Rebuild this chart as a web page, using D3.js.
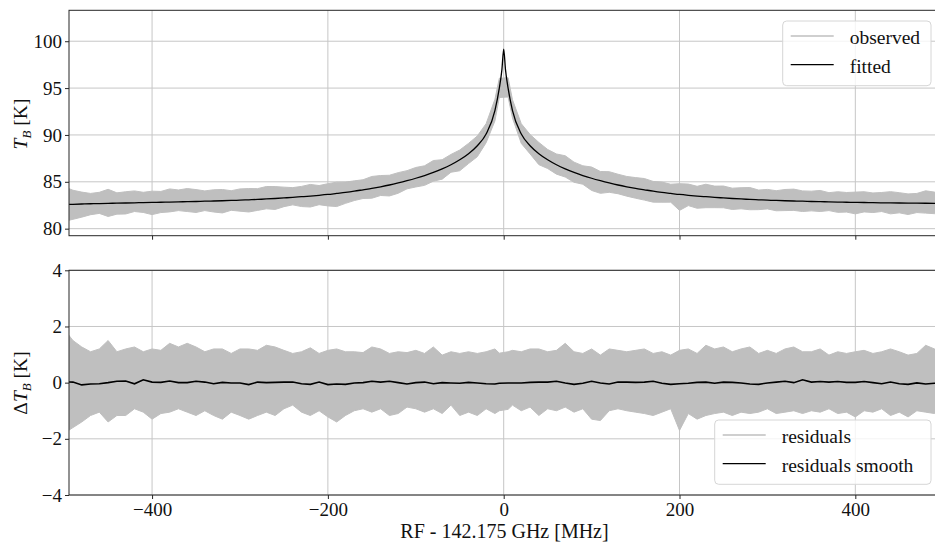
<!DOCTYPE html>
<html>
<head>
<meta charset="utf-8">
<script src="https://cdn.jsdelivr.net/npm/d3@7"></script>
<style>
  body { margin: 0; background: #fff; }
  text { font-family: 'Liberation Serif', 'DejaVu Serif', serif; fill: #111; }
</style>
</head>
<body>
<div id="chart"></div>
<script>
// fitted model, channel offsets from 142.175 GHz [MHz] and T_B [K]
const fitFreq = [
  -500,-490,-480,-470,-460,-450,-440,-430,-420,-410,
  -400,-390,-380,-370,-360,-350,-340,-330,-320,-310,
  -300,-290,-280,-270,-260,-250,-240,-230,-220,-210,
  -200,-190,-180,-170,-160,-150,-140,-130,-120,-110,
  -100,-90,-80,-70,-60,-50,-40,-30,-20,-10,
  -5,-2,0,2,5,
  10,20,30,40,50,60,70,80,90,100,
  110,120,130,140,150,160,170,180,190,200,
  210,220,230,240,250,260,270,280,290,300,
  310,320,330,340,350,360,370,380,390,400,
  410,420,430,440,450,460,470,480,490,500
];
const fitted = [
  82.58,82.60,82.63,82.66,82.68,82.70,82.72,82.74,82.76,82.78,
  82.80,82.82,82.84,82.86,82.88,82.90,82.93,82.95,82.98,83.01,
  83.04,83.08,83.12,83.17,83.22,83.28,83.34,83.41,83.48,83.56,
  83.65,83.76,83.87,84.00,84.15,84.30,84.47,84.66,84.88,85.12,
  85.38,85.67,86.00,86.38,86.82,87.35,88.00,88.85,90.10,92.60,
  95.00,97.00,99.15,97.00,95.00,
  92.60,90.10,88.85,88.00,87.35,86.82,86.38,86.00,85.67,85.38,
  85.12,84.88,84.66,84.47,84.30,84.15,84.00,83.87,83.76,83.65,
  83.56,83.48,83.41,83.34,83.28,83.22,83.17,83.12,83.08,83.04,
  83.01,82.98,82.95,82.93,82.90,82.88,82.86,82.84,82.82,82.80,
  82.79,82.77,82.76,82.75,82.74,82.73,82.72,82.71,82.70,82.69
];

// residual channel bins [MHz]
const freq = [
  -500,-490,-480,-470,-460,-450,-440,-430,-420,-410,
  -400,-390,-380,-370,-360,-350,-340,-330,-320,-310,
  -300,-290,-280,-270,-260,-250,-240,-230,-220,-210,
  -200,-190,-180,-170,-160,-150,-140,-130,-120,-110,
  -100,-90,-80,-70,-60,-50,-40,-30,-20,-10,
  -5,5,
  10,20,30,40,50,60,70,80,90,100,
  110,120,130,140,150,160,170,180,190,200,
  210,220,230,240,250,260,270,280,290,300,
  310,320,330,340,350,360,370,380,390,400,
  410,420,430,440,450,460,470,480,490,500
];

// upper / lower envelope of the residual noise in each bin [K]
const resHi = [
  1.90,1.50,1.27,1.10,1.20,1.50,1.10,1.20,1.27,1.10,
  1.20,1.15,1.40,1.27,1.40,1.27,1.10,1.20,1.20,1.04,
  1.20,1.20,1.15,1.33,1.27,1.15,1.04,1.10,1.24,1.04,
  1.15,1.20,1.10,1.10,1.07,1.27,1.20,1.04,1.10,1.07,
  1.15,1.04,1.27,0.98,1.10,1.04,1.10,1.04,1.10,1.20,
  1.05,1.10,
  1.15,1.10,1.20,1.20,1.10,1.15,1.40,1.10,1.04,1.20,
  0.98,1.20,1.15,1.10,1.15,1.20,1.04,1.10,0.98,1.15,
  1.20,1.04,1.33,1.20,1.27,1.10,1.20,1.27,1.04,1.15,
  1.04,1.20,1.27,1.10,1.10,1.20,0.98,1.10,1.04,1.10,
  1.15,1.04,1.10,1.20,1.10,0.98,1.04,1.33,1.20,1.10
];
const resLo = [
  -1.80,-1.60,-1.40,-1.17,-1.05,-1.40,-1.17,-1.17,-0.93,-1.05,
  -1.30,-1.10,-1.05,-0.93,-1.05,-1.17,-1.00,-1.17,-1.30,-1.05,
  -1.17,-1.30,-1.17,-1.05,-1.17,-0.93,-0.80,-1.05,-1.17,-1.00,
  -1.22,-1.40,-1.17,-1.00,-0.93,-1.05,-0.93,-1.17,-1.10,-0.87,
  -0.93,-1.05,-0.93,-1.10,-0.80,-1.17,-1.05,-1.17,-0.93,-1.10,
  -1.00,-0.95,
  -0.80,-1.00,-0.87,-1.17,-0.93,-1.00,-0.87,-1.05,-0.93,-1.30,
  -1.35,-1.00,-0.93,-1.00,-1.05,-1.10,-1.17,-1.05,-0.93,-1.70,
  -1.10,-1.30,-1.17,-1.10,-1.05,-1.17,-1.05,-1.10,-1.05,-0.93,
  -1.10,-1.05,-1.00,-1.10,-1.00,-1.05,-0.93,-1.10,-1.05,-1.22,
  -1.00,-1.05,-0.93,-1.17,-1.05,-1.22,-1.00,-1.05,-1.10,-1.00
];

// smoothed residuals [K]
const resSmooth = [
  0.03,0.02,-0.08,-0.05,-0.04,0.00,0.05,0.06,-0.04,0.10,
  0.02,0.01,0.06,0.00,0.00,0.05,0.02,-0.04,0.01,-0.01,
  -0.01,-0.07,0.02,0.00,0.01,0.02,0.02,-0.04,-0.06,0.02,
  -0.07,-0.05,-0.06,-0.01,0.00,0.05,0.02,0.05,0.00,-0.05,
  0.00,0.02,-0.04,0.00,-0.01,-0.02,0.01,-0.01,-0.04,-0.05,
  -0.02,-0.01,
  -0.01,-0.01,0.01,0.02,0.02,0.05,-0.01,-0.06,-0.02,0.05,
  -0.01,-0.05,0.02,0.02,0.01,0.02,0.05,-0.02,-0.06,-0.04,
  -0.02,0.01,0.02,-0.02,0.02,0.01,-0.01,-0.05,-0.06,-0.01,
  0.02,0.05,0.00,0.10,0.02,0.04,0.02,0.04,0.01,0.01,
  0.04,0.00,-0.04,0.02,-0.04,-0.06,-0.01,-0.05,-0.02,-0.02
];

const xTicks = [-400, -200, 0, 200, 400];
const yTopTicks = [80, 85, 90, 95, 100];
const yBotTicks = [-4, -2, 0, 2, 4];

// observed = fitted + residuals, in the residual bins
const fitAt = new Map(fitFreq.map((f, i) => [f, fitted[i]]));
const fitRows = fitFreq.map((f, i) => ({f: f, fit: fitted[i]}));
const rows = freq.map((f, i) => ({f: f, fit: fitAt.get(f), hi: resHi[i], lo: resLo[i], sm: resSmooth[i]}));

const left = 69, right = 938.4;
const grey = '#bfbfbf', gridCol = '#c6c6c6', spineCol = '#262626';

const x = d3.scaleLinear().domain([-494.5, 494.5]).range([left, right]);
const yTop = d3.scaleLinear().domain([79.25, 103.3]).range([235.7, 10.3]);
const yBot = d3.scaleLinear().domain([-4, 4]).range([495, 270.3]);

const svg = d3.select('#chart').append('svg').attr('width', 935).attr('height', 546);
const defs = svg.append('defs');

function panel(name, y, yTicks, showX) {
    const top = y.range()[1], bottom = y.range()[0];
    defs.append('clipPath').attr('id', 'clip-' + name)
        .append('rect').attr('x', left).attr('y', top).attr('width', right - left).attr('height', bottom - top);

    const g = svg.append('g');
    // grid
    g.append('g').selectAll('line').data(xTicks).enter().append('line')
        .attr('x1', (d) => x(d)).attr('x2', (d) => x(d)).attr('y1', top).attr('y2', bottom)
        .attr('stroke', gridCol).attr('stroke-width', 1);
    g.append('g').selectAll('line').data(yTicks).enter().append('line')
        .attr('x1', left).attr('x2', right).attr('y1', (d) => y(d)).attr('y2', (d) => y(d))
        .attr('stroke', gridCol).attr('stroke-width', 1);

    const plot = g.append('g').attr('clip-path', 'url(#clip-' + name + ')');

    // axes
    const yAxis = g.append('g').attr('transform', 'translate(' + left + ',0)')
        .call(d3.axisLeft(y).tickValues(yTicks).tickSize(4).tickPadding(3).tickSizeOuter(0));
    const xAxis = g.append('g').attr('transform', 'translate(0,' + bottom + ')')
        .call(d3.axisBottom(x).tickValues(xTicks).tickSize(4).tickPadding(4).tickSizeOuter(0)
            .tickFormat(showX ? d3.format('d') : ''));
    [yAxis, xAxis].forEach((a) => {
        a.select('.domain').remove();
        a.selectAll('.tick line').attr('stroke', spineCol);
        a.selectAll('.tick text').attr('font-size', 19).attr('font-family', null).attr('fill', '#111');
    });

    g.append('rect').attr('x', left).attr('y', top).attr('width', right - left).attr('height', bottom - top)
        .attr('fill', 'none').attr('stroke', spineCol).attr('stroke-width', 1);
    return {g: g, plot: plot};
}

// ---- top panel: observed + fitted
const p1 = panel('top', yTop, yTopTicks, false);
const obsArea = d3.area()
    .x((d) => x(d.f))
    .y0((d) => yTop(d.fit + d.lo))
    .y1((d) => yTop(d.fit + d.hi));
p1.plot.append('path').attr('d', obsArea(rows))
    .attr('fill', grey).attr('stroke', grey).attr('stroke-width', 1);
const fitLine = d3.line().x((d) => x(d.f)).y((d) => yTop(d.fit)).curve(d3.curveMonotoneX);
p1.plot.append('path').attr('d', fitLine(fitRows))
    .attr('fill', 'none').attr('stroke', '#000').attr('stroke-width', 1.3);

// ---- bottom panel: residuals
const p2 = panel('bot', yBot, yBotTicks, true);
const resArea = d3.area()
    .x((d) => x(d.f))
    .y0((d) => yBot(d.lo))
    .y1((d) => yBot(d.hi));
p2.plot.append('path').attr('d', resArea(rows))
    .attr('fill', grey).attr('stroke', grey).attr('stroke-width', 1);
const smLine = d3.line().x((d) => x(d.f)).y((d) => yBot(d.sm));
p2.plot.append('path').attr('d', smLine(rows))
    .attr('fill', 'none').attr('stroke', '#000').attr('stroke-width', 1.6);

// ---- legends
function legend(x0, y0, w, h, items) {
    const lg = svg.append('g');
    lg.append('rect').attr('x', x0).attr('y', y0).attr('width', w).attr('height', h)
        .attr('rx', 4).attr('fill', '#fff').attr('fill-opacity', 0.8)
        .attr('stroke', '#d6d6d6').attr('stroke-width', 1);
    items.forEach((it, i) => {
        const yy = y0 + 15 + i * 28.7;
        lg.append('line').attr('x1', x0 + 8).attr('x2', x0 + 51).attr('y1', yy).attr('y2', yy)
            .attr('stroke', it.color).attr('stroke-width', 1.3);
        lg.append('text').attr('x', x0 + 67).attr('y', yy + 8).attr('font-size', 19.5).text(it.label);
    });
}
legend(782.7, 21, 148.3, 64.7, [{label: 'observed', color: grey}, {label: 'fitted', color: '#000'}]);
legend(714.7, 420, 216.3, 64.3, [{label: 'residuals', color: grey}, {label: 'residuals smooth', color: '#000'}]);

// ---- axis labels
const lab1 = svg.append('text').attr('transform', 'translate(27,124) rotate(-90)')
    .attr('text-anchor', 'middle').attr('font-size', 19.5);
lab1.append('tspan').attr('font-style', 'italic').text('T');
lab1.append('tspan').attr('font-style', 'italic').attr('font-size', 13).attr('dy', 4).text('B');
lab1.append('tspan').attr('dy', -4).text(' [K]');

const lab2 = svg.append('text').attr('transform', 'translate(27,383) rotate(-90)')
    .attr('text-anchor', 'middle').attr('font-size', 19.5);
lab2.append('tspan').text('\u0394');
lab2.append('tspan').attr('font-style', 'italic').text('T');
lab2.append('tspan').attr('font-style', 'italic').attr('font-size', 13).attr('dy', 4).text('B');
lab2.append('tspan').attr('dy', -4).text(' [K]');

svg.append('text').attr('x', 504.5).attr('y', 538).attr('text-anchor', 'middle')
    .attr('font-size', 20).text('RF - 142.175 GHz [MHz]');
</script>
</body>
</html>
